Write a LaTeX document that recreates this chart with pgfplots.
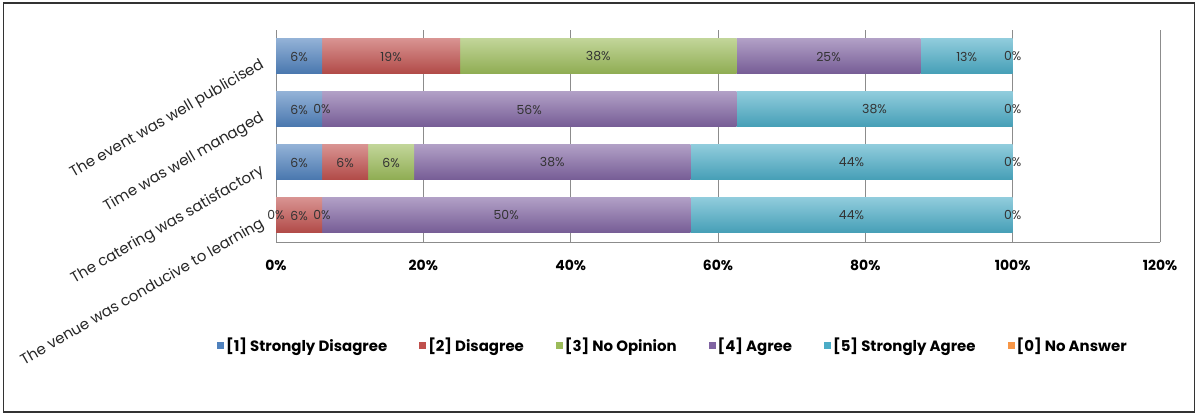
\documentclass[border=0pt]{standalone}
\usepackage{pgfplots}
\pgfplotsset{compat=1.18}
\usepackage{fontspec}
\setmainfont{Poppins}
\definecolor{cA}{HTML}{4F81BD}
\definecolor{cB}{HTML}{C0504D}
\definecolor{cC}{HTML}{9BBB59}
\definecolor{cD}{HTML}{8064A2}
\definecolor{cE}{HTML}{4BACC6}
\definecolor{cF}{HTML}{F79646}
\pgfplotsset{
  base/.style={at={(276bp,173bp)}, anchor=south west, scale only axis,
    width=884bp, height=212bp, xmin=0, xmax=120, ymin=-0.5, ymax=3.5},
  rowax/.style={base, xbar stacked, bar width=35bp, hide axis},
  sA/.style={draw=none, top color=cA!62!white, bottom color=cA!92!black},
  sB/.style={draw=none, top color=cB!62!white, bottom color=cB!92!black},
  sC/.style={draw=none, top color=cC!62!white, bottom color=cC!92!black},
  sD/.style={draw=none, top color=cD!62!white, bottom color=cD!92!black},
  sE/.style={draw=none, top color=cE!62!white, bottom color=cE!92!black},
}
\begin{document}
\begin{tikzpicture}
\useasboundingbox (0bp,0bp) rectangle (1198bp,415bp);
\draw[line width=1.2bp, black!80] (3.5bp,3bp) rectangle (1194.5bp,412bp);
% axes, grid, ticks, legend
\begin{axis}[
  base,
  ytick={0,1,2,3},
  yticklabels={The venue was conducive to learning, The catering was satisfactory, Time was well managed, The event was well publicised},
  yticklabel style={rotate=30, anchor=east, font=\fontsize{15}{17}\selectfont, text=black!85, inner sep=5bp, xshift=-10bp},
  xtick={0,20,40,60,80,100,120},
  xticklabels={0\%,20\%,40\%,60\%,80\%,100\%,120\%},
  xticklabel style={font=\bfseries\fontsize{14}{16}\selectfont, yshift=-15bp},
  axis lines*=left,
  axis line style={draw=black!45, line width=0.8bp},
  major tick length=0pt,
  xmajorgrids, grid style={draw=black!45, line width=0.6bp},
  legend style={draw=none, at={(0.449,-0.49)}, anchor=center, legend columns=6,
    font=\bfseries\fontsize{15}{17}\selectfont,
    /tikz/every even column/.append style={column sep=30bp}},
  legend image code/.code={\path[#1] (0bp,-3.5bp) rectangle (7bp,3.5bp);},
]
\addlegendimage{fill=cA, draw=none}\addlegendentry{[1] Strongly Disagree}
\addlegendimage{fill=cB, draw=none}\addlegendentry{[2] Disagree}
\addlegendimage{fill=cC, draw=none}\addlegendentry{[3] No Opinion}
\addlegendimage{fill=cD, draw=none}\addlegendentry{[4] Agree}
\addlegendimage{fill=cE, draw=none}\addlegendentry{[5] Strongly Agree}
\addlegendimage{fill=cF, draw=none}\addlegendentry{[0] No Answer}
\end{axis}
% row: The event was well publicised (6.25, 18.75, 37.5, 25, 12.5, 0)
\begin{axis}[rowax]
\addplot[sA] coordinates {(6.25,3)};
\addplot[sB] coordinates {(18.75,3)};
\addplot[sC] coordinates {(37.5,3)};
\addplot[sD] coordinates {(25,3)};
\addplot[sE] coordinates {(12.5,3)};
\end{axis}
% row: Time was well managed (6.25, 0, 0, 56.25, 37.5, 0)
\begin{axis}[rowax]
\addplot[sA] coordinates {(6.25,2)};
\addplot[sD] coordinates {(56.25,2)};
\addplot[sE] coordinates {(37.5,2)};
\end{axis}
% row: The catering was satisfactory (6.25, 6.25, 6.25, 37.5, 43.75, 0)
\begin{axis}[rowax]
\addplot[sA] coordinates {(6.25,1)};
\addplot[sB] coordinates {(6.25,1)};
\addplot[sC] coordinates {(6.25,1)};
\addplot[sD] coordinates {(37.5,1)};
\addplot[sE] coordinates {(43.75,1)};
\end{axis}
% row: The venue was conducive to learning (0, 6.25, 0, 50, 43.75, 0)
\begin{axis}[rowax]
\addplot[sB] coordinates {(6.25,0)};
\addplot[sD] coordinates {(50,0)};
\addplot[sE] coordinates {(43.75,0)};
\end{axis}
% data labels
\begin{axis}[
  base, hide axis,
  nodes near coords, point meta=explicit symbolic,
  every node near coord/.append style={anchor=center, font=\fontsize{12.5}{14}\selectfont, text=black!80, inner sep=0pt},
]
\addplot[only marks, mark=none] coordinates {
 (3.125,3) [6\%] (15.625,3) [19\%] (43.75,3) [38\%] (75,3) [25\%] (93.75,3) [13\%] (100,3) [0\%]
 (3.125,2) [6\%] (6.25,2) [0\%] (34.375,2) [56\%] (81.25,2) [38\%] (100,2) [0\%]
 (3.125,1) [6\%] (9.375,1) [6\%] (15.625,1) [6\%] (37.5,1) [38\%] (78.125,1) [44\%] (100,1) [0\%]
 (0,0) [0\%] (3.125,0) [6\%] (6.25,0) [0\%] (31.25,0) [50\%] (78.125,0) [44\%] (100,0) [0\%]
};
\end{axis}
\end{tikzpicture}
\end{document}
